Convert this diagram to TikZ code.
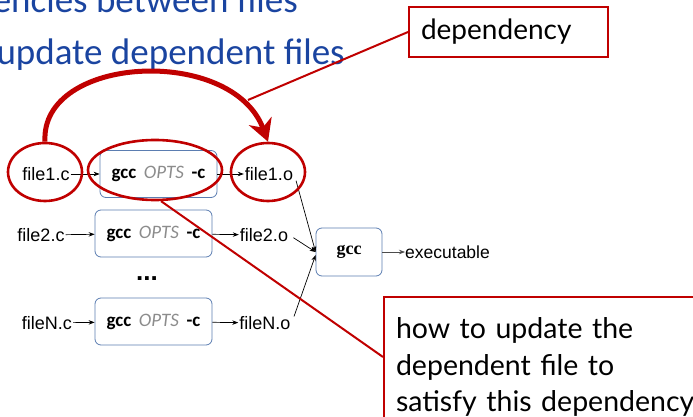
\documentclass[tikz,border=0pt]{standalone}
\usepackage{fontspec}
\setmainfont{Liberation Sans}
\newfontfamily\titlefont{Carlito}
\newfontfamily\calloutfont{Lato}
\newfontfamily\gccserif{Liberation Serif}
\usetikzlibrary{arrows.meta,shapes.geometric}

\definecolor{myred}{HTML}{C00000}
\definecolor{titleblue}{HTML}{1A44A0}
\definecolor{boxblue}{HTML}{5B7DB1}
\definecolor{optsgray}{HTML}{8C8C8C}

\tikzset{
  titletext/.style={font=\titlefont\fontsize{37}{37}\selectfont, text=titleblue, inner sep=0pt},
  filelbl/.style={font=\fontsize{18}{18}\selectfont, inner sep=1pt},
  ccbox/.style={draw=boxblue, rounded corners=6pt, line width=0.8pt,
    minimum width=117pt, minimum height=47pt, inner sep=0pt,
    font=\titlefont\fontsize{19}{19}\selectfont},
  linkbox/.style={draw=boxblue, rounded corners=6pt, line width=0.8pt,
    minimum width=66pt, minimum height=48pt, inner sep=0pt,
    font=\gccserif\bfseries\fontsize{18}{18}\selectfont},
  flow/.style={-{Stealth[length=6pt,width=4.5pt]}, line width=0.7pt},
  redring/.style={draw=myred, line width=2.6pt, ellipse, inner sep=0pt},
  redline/.style={draw=myred, line width=2pt},
  callout/.style={draw=myred, line width=2pt, fill=white,
    font=\calloutfont\fontsize{28.5}{36.5}\selectfont, align=left},
}

\newcommand{\ccopts}{\textbf{gcc}\hspace{0.4em}{\itshape\color{optsgray}OPTS}\hspace{0.4em}\textbf{-c}}

\begin{document}
\begin{tikzpicture}[x=1pt,y=-1pt]
\useasboundingbox (0,0) rectangle (693,417);
\clip (0,0) rectangle (693,417);

% heading lines
\node[titletext, anchor=base east] (t1) at (298,13) {encies between files};
\node[titletext, anchor=base east] (t2) at (345,65) {update dependent files};

% compile stages
\node[filelbl] (c1) at (46,174) {file1.c};
\node[filelbl] (c2) at (41,235) {file2.c};
\node[filelbl] (cN) at (47,323) {fileN.c};

\node[ccbox] (b1) at (158.5,174) {\ccopts};
\node[ccbox] (b2) at (153.5,233.5) {\ccopts};
\node[ccbox] (bN) at (153.5,321.5) {\ccopts};

\node[filelbl] (o1) at (269,174) {file1.o};
\node[filelbl] (o2) at (264,235) {file2.o};
\node[filelbl] (oN) at (265,323) {fileN.o};

\node[font=\bfseries\fontsize{26}{26}\selectfont, inner sep=0pt] (dots) at (147,279) {...};

\node[linkbox] (gcc) at (349,252) {gcc};
\node[filelbl, anchor=west, font=\fontsize{17.5}{17.5}\selectfont, inner sep=0pt] (exe) at (405,252) {executable};

\draw[flow] (c1) -- (b1);
\draw[flow] (c2) -- (b2);
\draw[flow] (cN) -- (bN);
\draw[flow] (b1) -- (o1);
\draw[flow] (b2) -- (o2);
\draw[flow] (bN) -- (oN);

\draw[flow, shorten <=7pt] (o1.east) -- (gcc.west);
\draw[flow, shorten <=5pt] (o2.east) -- (gcc.west);
\draw[flow, shorten <=7pt] (oN.east) -- ([yshift=-3pt]gcc.west);
\draw[flow, draw=black!70] (gcc) -- (exe);

% highlighted parts of the rule
\node[redring, minimum width=74pt, minimum height=58pt] (e1) at (45,172) {};
\node[redring, minimum width=134pt, minimum height=60pt] (e2) at (155,170) {};
\node[redring, minimum width=74pt, minimum height=58pt] (e3) at (268,172) {};

\draw[myred, line width=5pt, -{Stealth[length=22pt,width=24pt,inset=7pt]}]
  (e1.north) .. controls (40,55) and (232,45) .. (e3.north);

% callouts
\node[callout, anchor=west, minimum height=50pt, text width=175pt,
  inner xsep=12pt, font=\calloutfont\fontsize{28}{30}\selectfont] (dep) at (408,32) {dependency};
\coordinate (arcpt) at (248,100);
\draw[redline] (dep.west) -- (arcpt);

\node[callout, anchor=north west, text width=320pt, inner xsep=12pt, inner ysep=13pt,
  minimum height=140pt] (how) at (383,296)
  {how to update the\\dependent file to\\satisfy this dependency};
\coordinate (howpt) at ([yshift=-61pt]how.north west);
\draw[redline] (e2.-79) -- (howpt);
\end{tikzpicture}
\end{document}
